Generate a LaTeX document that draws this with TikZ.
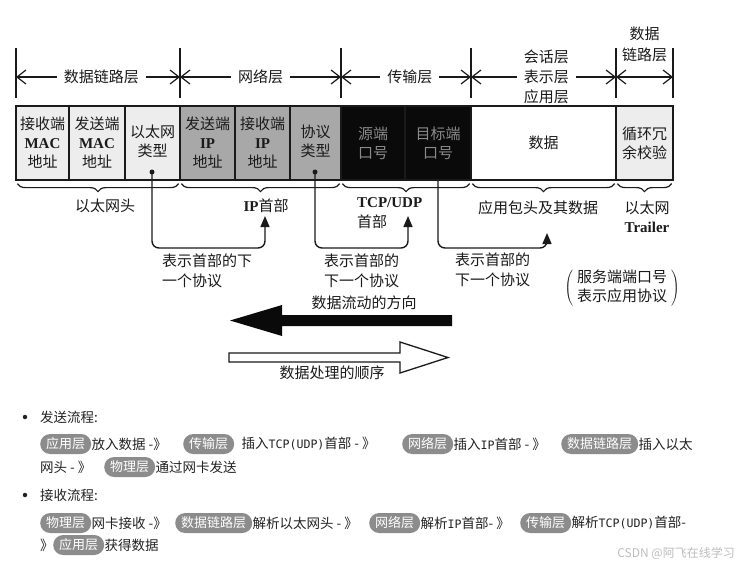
\documentclass[tikz,border=0pt]{standalone}
\usepackage{fontspec}
\newfontfamily\cjk{Noto Sans CJK SC}
\newfontfamily\serifl{Liberation Serif}
\newfontfamily\monof{DejaVu Sans Mono}
\usetikzlibrary{positioning,arrows.meta,decorations.pathreplacing}

\definecolor{lightfield}{HTML}{EDEDED}
\definecolor{midfield}{HTML}{A8A8A8}
\definecolor{darkfield}{HTML}{0A0A0A}
\definecolor{porttext}{HTML}{8A8A8A}
\definecolor{ink}{HTML}{1A1A1A}
\definecolor{pillgray}{HTML}{8C8C8C}
\definecolor{bodytext}{HTML}{222222}
\definecolor{markgray}{HTML}{BDBDBD}

\newcommand\lat[1]{{\serifl\bfseries #1}}
\newcommand\asc[1]{{\monof\fontsize{11.6}{16}\selectfont #1}}

\tikzset{
  field/.style={draw=ink, line width=1.2pt, minimum height=74pt, inner sep=0pt,
    align=center, text=ink, font=\cjk\fontsize{15}{19}\selectfont},
  layer/.style={fill=white, inner xsep=7pt, inner ysep=1pt, align=center, text=ink,
    font=\cjk\fontsize{15}{20}\selectfont},
  tick/.style={draw=ink, line width=1.2pt},
  span/.style={draw=ink, line width=1.2pt,
    {Straight Barb[length=9pt,width=14pt]}-{Straight Barb[length=9pt,width=14pt]}},
  brace/.style={draw=ink, decorate, decoration={brace, mirror, amplitude=8pt}, line width=1.2pt},
  note/.style={align=left, inner sep=0pt, text=ink, font=\cjk\fontsize{15}{19.5}\selectfont},
  dot/.style={circle, fill=ink, inner sep=0pt, minimum size=5pt},
  flow/.style={draw=ink, line width=1.4pt, rounded corners=7pt, -{Triangle[length=11pt,width=9pt]}},
  pill/.style={fill=pillgray, text=white, rounded corners=10pt, minimum height=20pt,
    inner xsep=6pt, inner ysep=0pt, font=\cjk\fontsize{13}{16}\selectfont},
  txt/.style={inner sep=0pt, text=bodytext, font=\cjk\fontsize{13.5}{16}\selectfont},
  bullet/.style={circle, fill=bodytext, inner sep=0pt, minimum size=4.5pt},
}

\begin{document}
\begin{tikzpicture}[x=1pt, y=-1pt]
  \useasboundingbox[fill=white] (0,0) rectangle (746,566);

  % layer ticks
  \coordinate (k1) at (16,77);
  \coordinate (k2) at (180,77);
  \coordinate (k3) at (341,77);
  \coordinate (k4) at (471,77);
  \coordinate (k5) at (616,77);
  \coordinate (k6) at (673,77);
  \draw[tick] (16,48) -- (16,98);
  \draw[tick] (180,48) -- (180,98);
  \draw[tick] (341,48) -- (341,98);
  \draw[tick] (471,48) -- (471,98);
  \draw[tick] (616,48) -- (616,98);
  \draw[tick] (673,48) -- (673,98);
  \draw[span] (k1) -- node[layer, pos=0.52] (link) {数据链路层} (k2);
  \draw[span] (k2) -- node[layer] (net) {网络层} (k3);
  \draw[span] (k3) -- node[layer, pos=0.53] (trans) {传输层} (k4);
  \draw[span] (k4) -- node[layer, pos=0.52] (app) {会话层\\表示层\\应用层} (k5);
  \draw[span] (k5) -- (k6);
  \node[layer, fill=none, inner sep=0pt, font=\cjk\fontsize{15}{21}\selectfont] (trail) at (644.5,44) {数据\\链路层};

  % frame fields
  \node[field, fill=lightfield, minimum width=53pt] (f1) at (42.5,143) {接收端\\\lat{MAC}\\地址};
  \node[field, fill=lightfield, minimum width=56pt] (f2) at (97,143) {发送端\\\lat{MAC}\\地址};
  \node[field, fill=lightfield, minimum width=55pt] (f3) at (152.5,143)
    {\raisebox{6pt}{\begin{tabular}{@{}c@{}}以太网\\类型\end{tabular}}};
  \node[field, fill=midfield, minimum width=55pt] (f4) at (207.5,143) {发送端\\\lat{IP}\\地址};
  \node[field, fill=midfield, minimum width=55pt] (f5) at (262.5,143) {接收端\\\lat{IP}\\地址};
  \node[field, fill=midfield, minimum width=51pt] (f6) at (315.5,143)
    {\raisebox{4pt}{\begin{tabular}{@{}c@{}}协议\\类型\end{tabular}}};
  \node[field, fill=darkfield, text=porttext, minimum width=64pt] (f7) at (373,143) {源端\\口号};
  \node[field, fill=darkfield, text=porttext, minimum width=66pt] (f8) at (438,143) {目标端\\口号};
  \node[field, fill=white, minimum width=145pt] (f9) at (543.5,143) {数据};
  \node[field, fill=lightfield, minimum width=57pt] (f10) at (644.5,143) {循环冗\\余校验};
  \node[dot] (d1) at (152,172) {};
  \node[dot] (d2) at (315,172) {};

  % braces and header names
  \draw[brace] ([xshift=2pt, yshift=-3pt]f1.south west) -- ([xshift=-2pt, yshift=-3pt]f3.south east);
  \draw[brace] ([xshift=2pt, yshift=-3pt]f4.south west) -- ([xshift=-2pt, yshift=-3pt]f6.south east);
  \draw[brace] ([xshift=2pt, yshift=-3pt]f7.south west) -- ([xshift=-2pt, yshift=-3pt]f8.south east);
  \draw[brace] ([xshift=2pt, yshift=-3pt]f9.south west) -- ([xshift=-2pt, yshift=-3pt]f9.south east);
  \draw[brace] ([xshift=2pt, yshift=-3pt]f10.south west) -- ([xshift=-2pt, yshift=-3pt]f10.south east);
  \node[note] (ethhead) at (105,206) {以太网头};
  \node[note] (iphead) at (266,206) {\lat{IP}首部};
  \node[note, anchor=west] (tcphead) at (357,213) {\lat{TCP/UDP}\\首部};
  \node[note] (appdata) at (538,208) {应用包头及其数据};
  \node[note, align=center] (ethtrail) at (647,217) {以太网\\\lat{Trailer}};

  % next protocol pointers
  \coordinate (lvl) at (0,248);
  \coordinate (t1) at (265,216);
  \coordinate (t2) at (408,216);
  \coordinate (t3) at (547,233);
  \draw[flow] (d1.center) |- (lvl -| t1) -- (t1);
  \draw[flow] (d2.center) |- (lvl -| t2) -- (t2);
  \draw[flow] (f8.south) |- (lvl -| t3) -- (t3);
  \node[note, anchor=west] (next1) at (162,271) {表示首部的下\\一个协议};
  \node[note, anchor=west] (next2) at (324,271) {表示首部的\\下一个协议};
  \node[note, anchor=west] (next3) at (455,270) {表示首部的\\下一个协议};
  \node[note] (svc) at (622,288)
    {$\left(\;\begin{tabular}{@{}c@{}}\cjk 服务端端口号\\\cjk 表示应用协议\end{tabular}\;\right)$};

  % direction arrows
  \fill[darkfield] (452,315) -- (282,315) -- (282,305) -- (230,320.5) -- (282,336)
    -- (282,326) -- (452,326) -- cycle;
  \draw[ink, line width=1.3pt, fill=white] (229,353) -- (400,353) -- (400,342)
    -- (448,357.5) -- (400,373) -- (400,362) -- (229,362) -- cycle;
  \node[note] (flowdir) at (364,303) {数据流动的方向};
  \node[note] (procorder) at (332,373) {数据处理的顺序};

  % send steps
  \node[bullet] (b1) at (25,417) {};
  \node[txt, anchor=west] (send) at (40,417) {发送流程:};
  \node[pill, anchor=west] (s1) at (40,444) {应用层};
  \node[txt, right=0pt of s1] (s1t) {放入数据 -》};
  \node[pill, anchor=west] (s2) at (183,444) {传输层};
  \node[txt, right=7pt of s2] (s2t) {插入\asc{TCP(UDP)}首部 - 》};
  \node[pill, anchor=west] (s3) at (402,444) {网络层};
  \node[txt, right=0pt of s3] (s3t) {插入\asc{IP}首部 - 》};
  \node[pill, anchor=west] (s4) at (561,444) {数据链路层};
  \node[txt, right=0pt of s4] (s4t) {插入以太};
  \node[txt, anchor=west] (s5a) at (40,467) {网头 - 》};
  \node[pill, anchor=west] (s5) at (104,467) {物理层};
  \node[txt, right=0pt of s5] (s5t) {通过网卡发送};

  % receive steps
  \node[bullet] (b2) at (25,495) {};
  \node[txt, anchor=west] (recv) at (40,495) {接收流程:};
  \node[pill, anchor=west] (r1) at (40,523) {物理层};
  \node[txt, right=0pt of r1] (r1t) {网卡接收 -》};
  \node[pill, anchor=west] (r2) at (175,523) {数据链路层};
  \node[txt, right=0pt of r2] (r2t) {解析以太网头 - 》};
  \node[pill, anchor=west] (r3) at (369,523) {网络层};
  \node[txt, right=0pt of r3] (r3t) {解析\asc{IP}首部- 》};
  \node[pill, anchor=west] (r4) at (520,523) {传输层};
  \node[txt, right=0pt of r4] (r4t) {解析\asc{TCP(UDP)}首部-};
  \node[txt, anchor=west] (r5a) at (40,545) {》};
  \node[pill, anchor=west] (r5) at (53,545) {应用层};
  \node[txt, right=0pt of r5] (r5t) {获得数据};
  \node[txt, anchor=east, text=markgray, font=\cjk\fontsize{12}{14}\selectfont] (mark) at (735,553) {CSDN @阿飞在线学习};
\end{tikzpicture}
\end{document}
